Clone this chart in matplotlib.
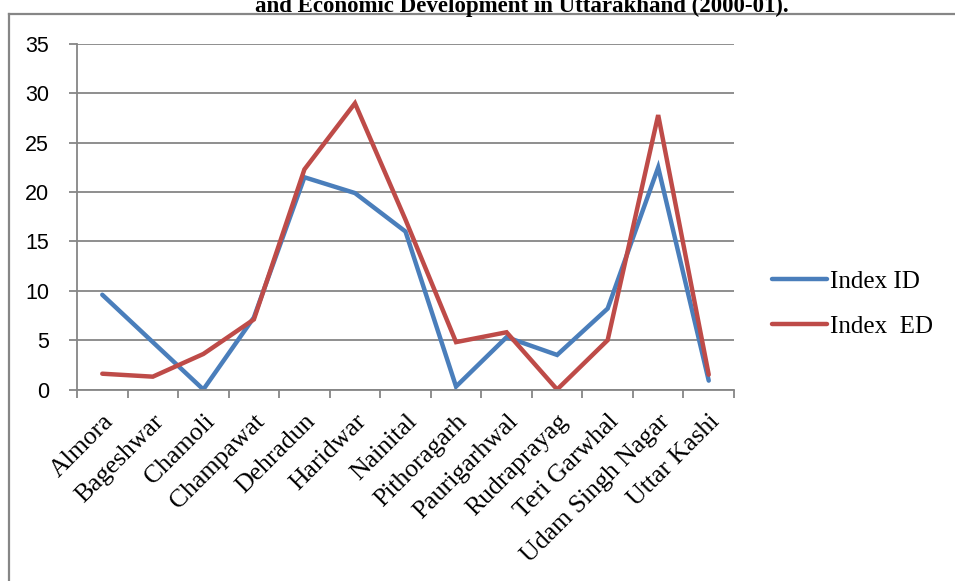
import matplotlib
matplotlib.use("Agg")
import matplotlib.pyplot as plt
from matplotlib.lines import Line2D

districts = ["Almora", "Bageshwar", "Chamoli", "Champawat", "Dehradun",
             "Haridwar", "Nainital", "Pithoragarh", "Paurigarhwal",
             "Rudraprayag", "Teri Garwhal", "Udam Singh Nagar", "Uttar Kashi"]
index_id = [9.6, 4.8, 0.0, 7.3, 21.5, 19.9, 16.0, 0.3, 5.3, 3.5, 8.2, 22.5, 0.9]
index_ed = [1.6, 1.3, 3.6, 7.1, 22.3, 29.0, 17.2, 4.8, 5.8, 0.0, 5.0, 27.8, 1.5]
yticks = [0, 5, 10, 15, 20, 25, 30, 35]

W, H = 955, 581
fig = plt.figure(figsize=(W / 100, H / 100), dpi=100)
ax = fig.add_axes([77 / W, 1 - 389.5 / H, (734 - 77) / W, (389.5 - 44) / H])

grey = "#868686"
x = list(range(len(districts)))
ax.plot(x, index_id, color="#4A7EBB", lw=3.2, label="Index ID", solid_capstyle="round", solid_joinstyle="miter")
ax.plot(x, index_ed, color="#BE4B48", lw=3.2, label="Index  ED", solid_capstyle="round", solid_joinstyle="miter")

ax.set_xlim(-0.5, len(districts) - 0.5)
ax.set_ylim(0, 35)
ax.set_yticks(yticks)
ax.set_yticklabels([str(v) for v in yticks], family="Liberation Sans", fontsize=15.5)
ax.yaxis.grid(True, color=grey, lw=1.3)
ax.set_axisbelow(True)
ax.tick_params(axis="y", length=6, color=grey, width=1.3, pad=14)

ax.set_xticks(x)
ax.set_xticklabels(districts, rotation=45, ha="right", va="top",
                   rotation_mode="anchor", family="Liberation Serif", fontsize=18.5)
ax.set_xticks([i - 0.5 for i in range(len(districts) + 1)], minor=True)
ax.tick_params(axis="x", which="major", length=0, pad=15)
ax.tick_params(axis="x", which="minor", length=6, color=grey, width=1.3)

for s in ["top", "right"]:
    ax.spines[s].set_visible(False)
for s in ["left", "bottom"]:
    ax.spines[s].set_color(grey)
    ax.spines[s].set_linewidth(1.3)

ax.legend(loc="center left", bbox_to_anchor=(772 / W, 1 - 304 / H),
          bbox_transform=fig.transFigure, frameon=False,
          prop={"family": "Liberation Serif", "size": 18},
          handlelength=2.2, handletextpad=0.1, labelspacing=0.9,
          borderpad=0, borderaxespad=0)

# outer chart border, cut off at the right and bottom
fig.add_artist(Line2D([9 / W, 9 / W], [0, 1 - 14 / H], color=grey, lw=1.6, transform=fig.transFigure))
fig.add_artist(Line2D([9 / W, 1], [1 - 14 / H, 1 - 14 / H], color=grey, lw=1.6, transform=fig.transFigure))

fig.text(522 / W, 1 - 12 / H, "and Economic Development in Uttarakhand (2000-01).",
         ha="center", va="baseline", family="Liberation Serif",
         fontweight="bold", fontsize=16.5)

plt.savefig("out.png", dpi=100)
